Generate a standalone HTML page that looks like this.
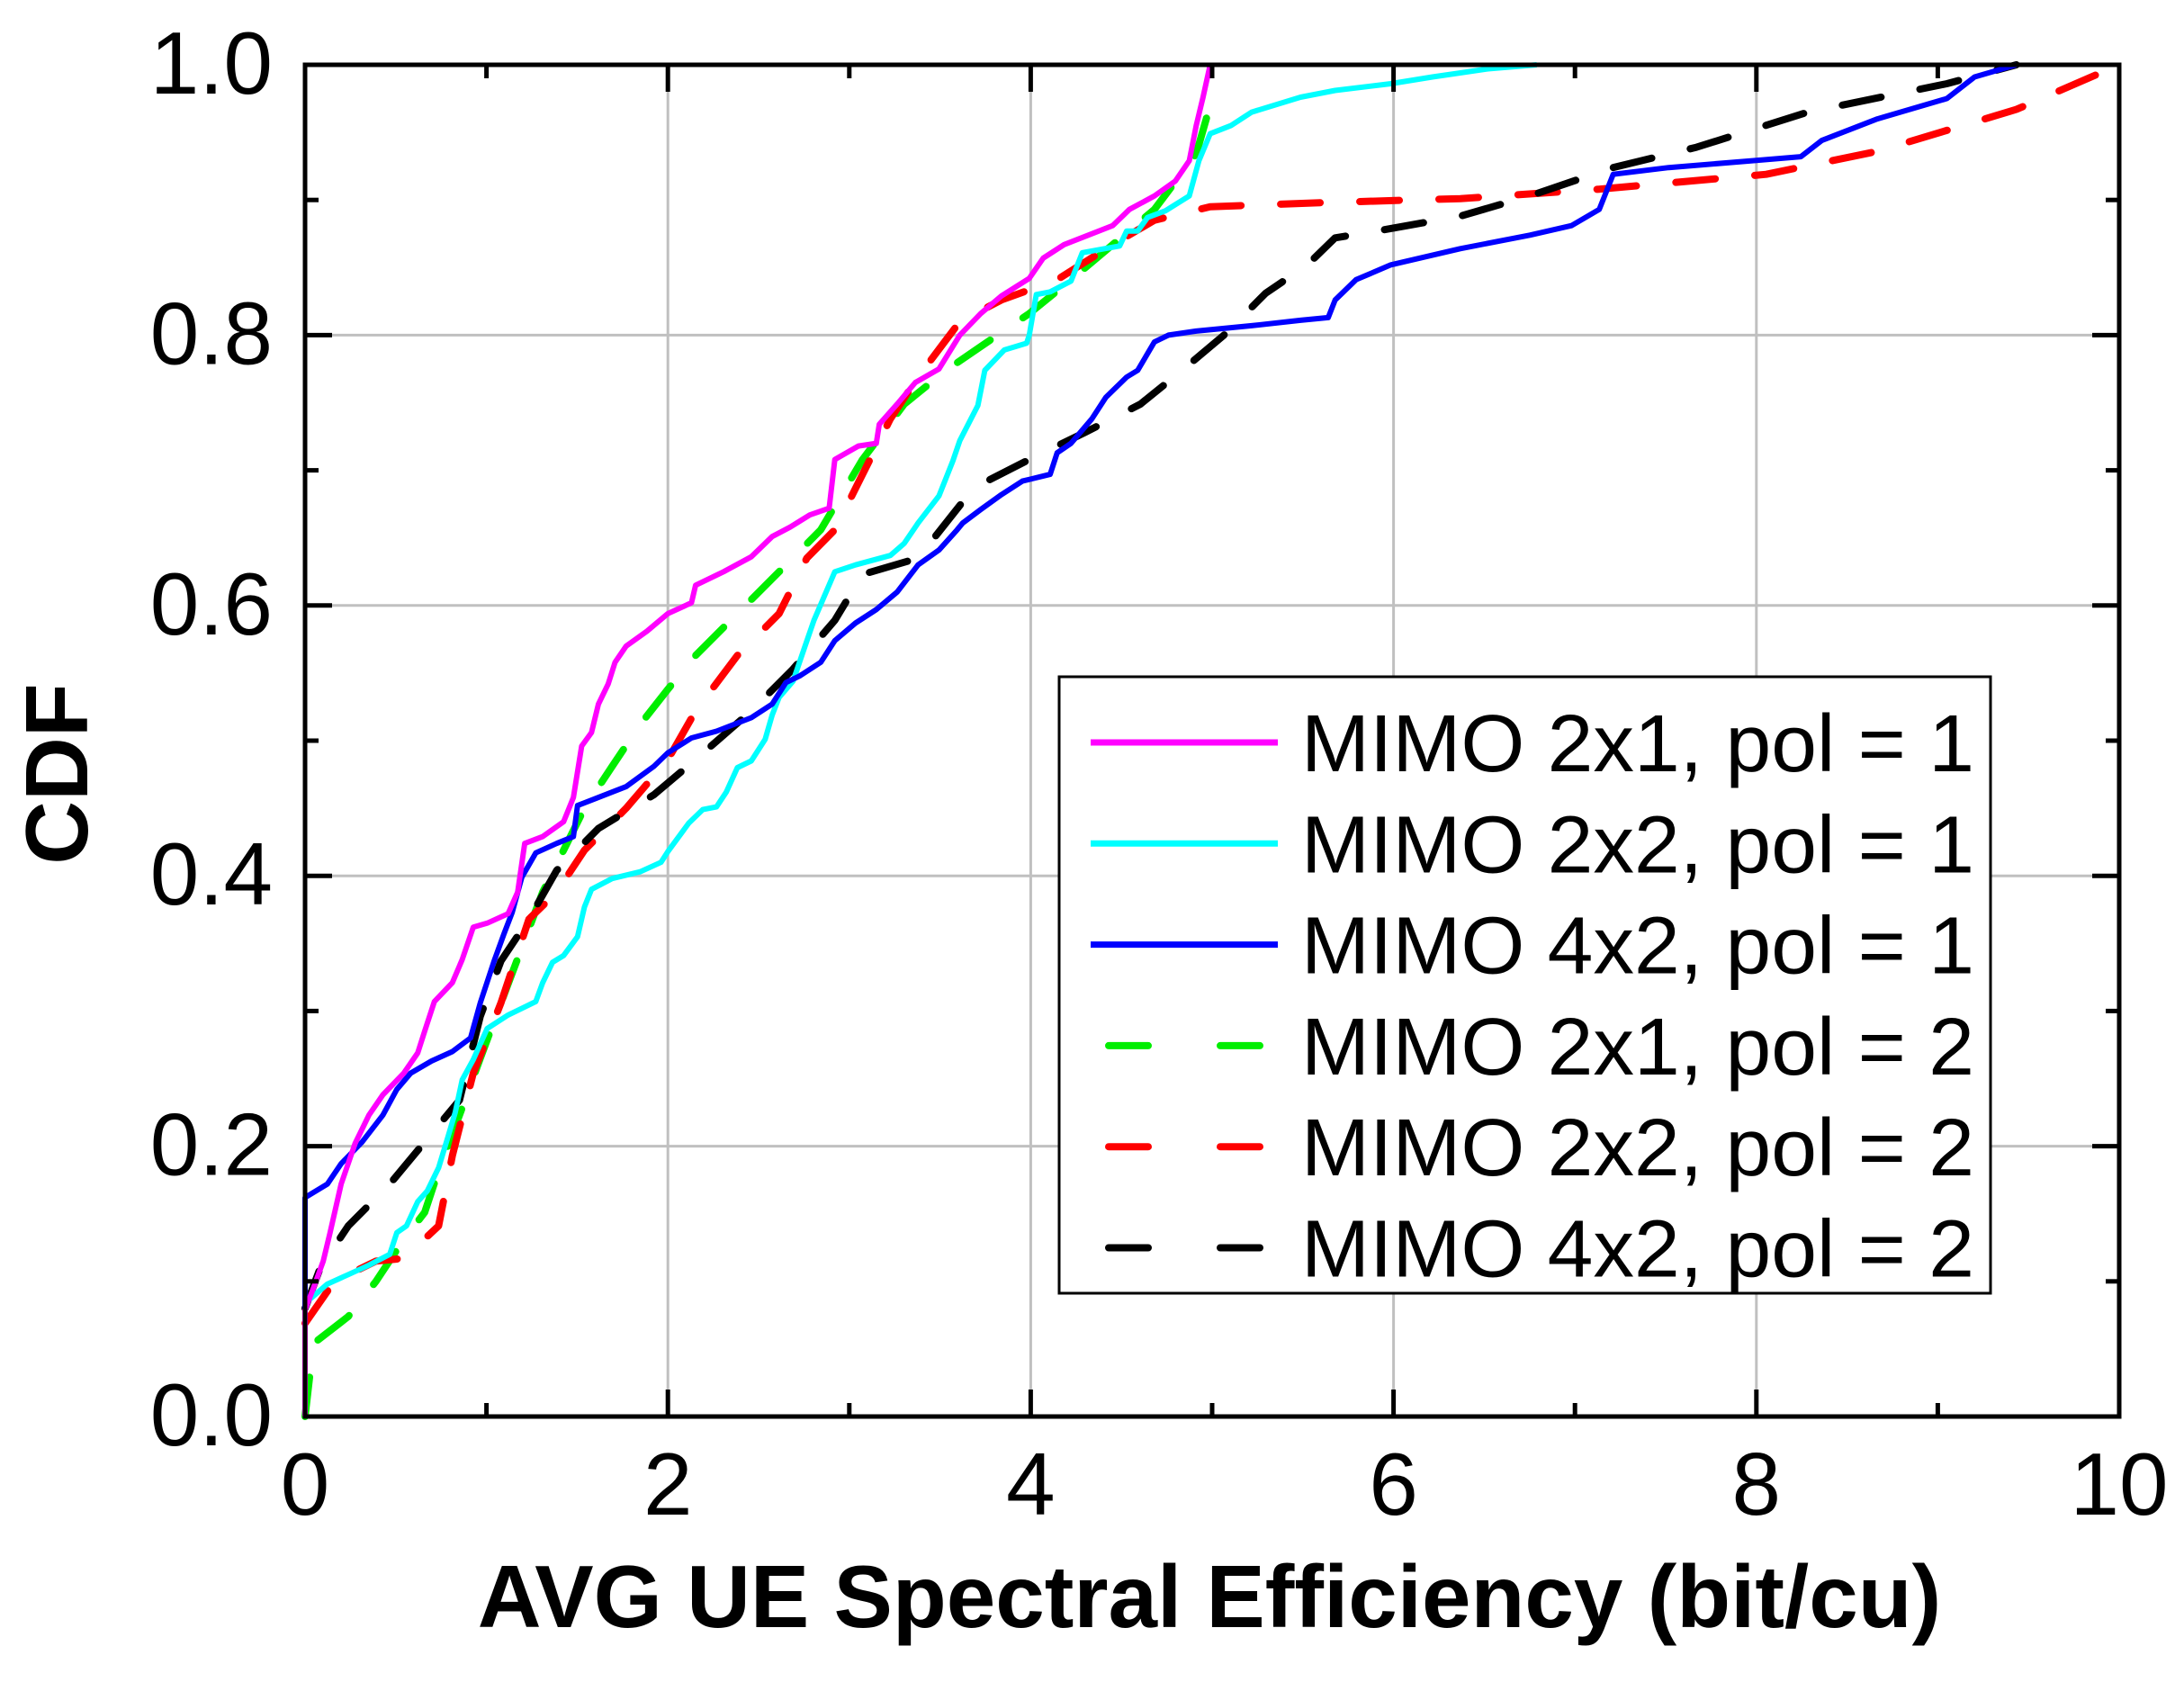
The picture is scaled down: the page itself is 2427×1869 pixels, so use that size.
<!DOCTYPE html>
<html><head><meta charset="utf-8"><style>
html,body{margin:0;padding:0;background:#fff;}
svg{display:block;}
text{font-family:"Liberation Sans",Arial,sans-serif;fill:#000;}
</style></head><body>
<svg id="chart" width="2427" height="1869" viewBox="0 0 2427 1869" xmlns="http://www.w3.org/2000/svg">
<g id="grid"></g>
<g id="series"></g>
<g id="axes"></g>
<g id="legend"></g>
</svg>
<script>
const xTicks = [0, 2, 4, 6, 8, 10];
const xTickLabels = ["0", "2", "4", "6", "8", "10"];
const yTicks = [0, 0.2, 0.4, 0.6, 0.8, 1.0];
const yTickLabels = ["0.0", "0.2", "0.4", "0.6", "0.8", "1.0"];
const seriesNames = ["MIMO 2x1, pol = 1","MIMO 2x2, pol = 1","MIMO 4x2, pol = 1","MIMO 2x1, pol = 2","MIMO 2x2, pol = 2","MIMO 4x2, pol = 2"];

const mimo2x1pol1 = [[0,0],[0,0.079],[0.046,0.095],[0.1,0.115],[0.138,0.136],[0.199,0.172],[0.276,0.202],[0.352,0.223],[0.429,0.238],[0.544,0.254],[0.621,0.269],[0.659,0.285],[0.713,0.307],[0.812,0.321],[0.866,0.338],[0.927,0.362],[1.004,0.365],[1.119,0.372],[1.172,0.388],[1.211,0.424],[1.31,0.429],[1.425,0.44],[1.479,0.458],[1.525,0.496],[1.579,0.506],[1.617,0.527],[1.671,0.542],[1.709,0.558],[1.77,0.57],[1.885,0.581],[2.0,0.594],[2.13,0.602],[2.153,0.615],[2.307,0.625],[2.46,0.636],[2.575,0.651],[2.674,0.658],[2.782,0.667],[2.889,0.672],[2.92,0.708],[3.05,0.718],[3.149,0.72],[3.165,0.734],[3.264,0.749],[3.364,0.765],[3.494,0.775],[3.609,0.8],[3.724,0.816],[3.839,0.829],[3.992,0.842],[4.069,0.857],[4.184,0.867],[4.452,0.881],[4.506,0.888],[4.544,0.893],[4.682,0.903],[4.797,0.914],[4.874,0.929],[4.912,0.955],[4.95,0.976],[4.989,1.0]];
const mimo2x2pol1 = [[0,0],[0,0.084],[0.046,0.089],[0.123,0.098],[0.238,0.105],[0.352,0.112],[0.467,0.12],[0.506,0.136],[0.559,0.141],[0.621,0.159],[0.674,0.167],[0.736,0.184],[0.79,0.208],[0.828,0.225],[0.866,0.249],[0.927,0.264],[1.004,0.287],[1.119,0.297],[1.272,0.307],[1.31,0.321],[1.364,0.336],[1.425,0.341],[1.502,0.355],[1.54,0.377],[1.579,0.39],[1.693,0.398],[1.847,0.403],[1.962,0.41],[2.0,0.418],[2.115,0.439],[2.192,0.449],[2.268,0.451],[2.322,0.462],[2.383,0.48],[2.46,0.485],[2.536,0.501],[2.575,0.519],[2.613,0.532],[2.69,0.544],[2.751,0.568],[2.805,0.589],[2.92,0.625],[3.034,0.63],[3.226,0.637],[3.303,0.646],[3.379,0.661],[3.494,0.681],[3.571,0.707],[3.609,0.722],[3.709,0.748],[3.747,0.774],[3.854,0.789],[3.977,0.794],[3.992,0.8],[4.031,0.83],[4.107,0.832],[4.222,0.84],[4.284,0.861],[4.49,0.866],[4.529,0.877],[4.59,0.877],[4.644,0.887],[4.743,0.892],[4.874,0.903],[4.927,0.929],[4.989,0.949],[5.103,0.955],[5.218,0.965],[5.487,0.976],[5.678,0.981],[5.985,0.986],[6.215,0.991],[6.521,0.997],[6.789,1.0]];
const mimo4x2pol1 = [[0,0],[0,0.162],[0.123,0.172],[0.199,0.187],[0.314,0.203],[0.429,0.223],[0.506,0.242],[0.582,0.254],[0.697,0.263],[0.812,0.27],[0.912,0.28],[0.966,0.306],[1.042,0.337],[1.096,0.357],[1.142,0.373],[1.195,0.399],[1.272,0.417],[1.387,0.424],[1.479,0.429],[1.502,0.452],[1.617,0.458],[1.77,0.466],[1.923,0.481],[2.0,0.491],[2.13,0.502],[2.268,0.507],[2.46,0.517],[2.575,0.527],[2.651,0.543],[2.728,0.548],[2.843,0.558],[2.92,0.574],[3.034,0.587],[3.149,0.597],[3.264,0.61],[3.379,0.63],[3.494,0.641],[3.594,0.656],[3.625,0.661],[3.724,0.671],[3.839,0.682],[3.954,0.692],[4.107,0.697],[4.146,0.713],[4.222,0.72],[4.337,0.738],[4.414,0.754],[4.529,0.769],[4.59,0.774],[4.682,0.795],[4.759,0.8],[4.912,0.803],[5.218,0.807],[5.487,0.811],[5.64,0.813],[5.678,0.826],[5.793,0.841],[5.985,0.852],[6.368,0.864],[6.751,0.874],[6.981,0.881],[7.134,0.893],[7.211,0.919],[7.517,0.924],[7.977,0.929],[8.245,0.932],[8.36,0.944],[8.667,0.96],[9.05,0.975],[9.203,0.991],[9.433,1.0]];
const mimo2x1pol2 = [[0,0],[0.046,0.054],[0.238,0.074],[0.391,0.1],[0.544,0.131],[0.659,0.151],[0.736,0.182],[0.851,0.223],[0.966,0.265],[1.08,0.306],[1.195,0.347],[1.31,0.388],[1.425,0.419],[1.54,0.45],[1.693,0.481],[1.847,0.512],[2.0,0.538],[2.153,0.563],[2.383,0.594],[2.613,0.625],[2.843,0.656],[3.073,0.708],[3.303,0.749],[3.533,0.774],[3.762,0.795],[3.992,0.816],[4.222,0.841],[4.452,0.867],[4.682,0.893],[4.912,0.934],[4.989,0.97]];
const mimo2x2pol2 = [[0,0.069],[0.161,0.1],[0.391,0.115],[0.544,0.117],[0.736,0.141],[0.812,0.193],[0.927,0.254],[1.08,0.306],[1.234,0.368],[1.387,0.388],[1.54,0.419],[1.77,0.45],[2.0,0.486],[2.153,0.522],[2.383,0.563],[2.613,0.594],[2.766,0.635],[2.92,0.656],[3.073,0.697],[3.226,0.738],[3.379,0.769],[3.609,0.81],[3.839,0.826],[4.146,0.841],[4.452,0.867],[4.682,0.885],[4.989,0.895],[5.602,0.898],[6.368,0.901],[7.134,0.908],[8.054,0.919],[8.667,0.936],[9.433,0.967],[10,1.0]];
const mimo4x2pol2 = [[0,0.08],[0.084,0.11],[0.238,0.141],[0.467,0.172],[0.659,0.203],[0.851,0.234],[0.966,0.296],[1.08,0.337],[1.234,0.368],[1.387,0.404],[1.617,0.435],[1.923,0.46],[2.153,0.486],[2.46,0.522],[2.69,0.553],[2.92,0.589],[3.073,0.623],[3.379,0.635],[3.686,0.687],[3.992,0.708],[4.299,0.728],[4.605,0.749],[4.835,0.774],[5.065,0.8],[5.295,0.831],[5.525,0.852],[5.678,0.872],[5.908,0.877],[6.368,0.888],[6.751,0.903],[7.211,0.924],[7.67,0.939],[8.284,0.965],[9.05,0.986],[9.433,1.0]];

const NS = "http://www.w3.org/2000/svg";
const L = 339, R = 2355, T = 72, B = 1574;
function xs(v){ return L + (v - 0) / 10 * (R - L); }
function ys(v){ return B - (v - 0) / 1 * (B - T); }
function mk(tag, attrs, parent){ const e = document.createElementNS(NS, tag); for (const k in attrs) e.setAttribute(k, attrs[k]); parent.appendChild(e); return e; }

const grid = document.getElementById('grid');
xTicks.forEach(function(v){
  if (v === 0 || v === 10) return;
  const g = mk('line', {x1: xs(v), x2: xs(v), y1: T, y2: B, stroke: '#c0c0c0', 'stroke-width': 3}, grid);
  
  
});
yTicks.forEach(function(v){
  if (v === 0 || v === 1) return;
  const g = mk('line', {x1: L, x2: R, y1: ys(v), y2: ys(v), stroke: '#c0c0c0', 'stroke-width': 3}, grid);
  
  
});

const seriesData = [mimo2x1pol1, mimo2x2pol1, mimo4x2pol1, mimo2x1pol2, mimo2x2pol2, mimo4x2pol2];
const colors = ['#ff00ff', '#00ffff', '#0000ff', '#00ee00', '#ff0000', '#000000'];
const dashed = [false, false, false, true, true, true];
const seriesKeys = ['mimo-2x1-pol1', 'mimo-2x2-pol1', 'mimo-4x2-pol1', 'mimo-2x1-pol2', 'mimo-2x2-pol2', 'mimo-4x2-pol2'];
const sg = document.getElementById('series');
const drawOrder = [3, 4, 5, 1, 2, 0];
drawOrder.forEach(function(i){
  const d = seriesData[i].map(function(p, j){ return (j ? 'L' : 'M') + xs(p[0]).toFixed(1) + ',' + ys(p[1]).toFixed(1); }).join('');
  const attrs = {d: d, fill: 'none', stroke: colors[i], 'stroke-width': dashed[i] ? 8 : 6, 'stroke-linejoin': 'round'};
  if (dashed[i]) { attrs['stroke-dasharray'] = '44 44'; attrs['stroke-linecap'] = 'round'; }
  const p = mk('path', attrs, sg);
  
  
});

const ax = document.getElementById('axes');
const frame = mk('rect', {x: L, y: T, width: R - L, height: B - T, fill: 'none', stroke: '#000', 'stroke-width': 5}, ax);


for (let v = 0; v <= 10; v += 1) {
  const len = (v % 2 === 0) ? 30 : 15;
  const t1 = mk('line', {x1: xs(v), x2: xs(v), y1: B, y2: B - len, stroke: '#000', 'stroke-width': 5}, ax);
  
  
  const t2 = mk('line', {x1: xs(v), x2: xs(v), y1: T, y2: T + len, stroke: '#000', 'stroke-width': 5}, ax);
  
  
}
for (let k = 0; k <= 10; k++) {
  const v = k / 10;
  const len = (k % 2 === 0) ? 30 : 15;
  const t1 = mk('line', {x1: L, x2: L + len, y1: ys(v), y2: ys(v), stroke: '#000', 'stroke-width': 5}, ax);
  
  
  const t2 = mk('line', {x1: R, x2: R - len, y1: ys(v), y2: ys(v), stroke: '#000', 'stroke-width': 5}, ax);
  
  
}
xTicks.forEach(function(v, i){
  const t = mk('text', {x: xs(v), y: 1683, 'font-size': 98, 'text-anchor': 'middle'}, ax);
  t.textContent = xTickLabels[i];
  
  
});
yTicks.forEach(function(v, i){
  const t = mk('text', {x: 303, y: ys(v) + 32, 'font-size': 98, 'text-anchor': 'end'}, ax);
  t.textContent = yTickLabels[i];
  
  
});
const xt = mk('text', {x: 1344, y: 1808, 'font-size': 98, 'font-weight': 'bold', 'text-anchor': 'middle'}, ax);
xt.textContent = 'AVG UE Spectral Efficiency (bit/cu)';


const yt = mk('text', {x: 0, y: 0, 'font-size': 98, 'font-weight': 'bold', 'text-anchor': 'middle', transform: 'translate(97,860) rotate(-90)'}, ax);
yt.textContent = 'CDF';



const lg = document.getElementById('legend');
const box = mk('rect', {x: 1177, y: 752, width: 1035, height: 685, fill: '#fff', stroke: '#000', 'stroke-width': 3}, lg);


seriesNames.forEach(function(name, i){
  const y = 825 + i * 112.3;
  const la = {x1: 1212, x2: 1420, y1: y, y2: y, stroke: colors[i], 'stroke-width': dashed[i] ? 8 : 7};
  if (dashed[i]) { la['stroke-dasharray'] = '44 80'; la['stroke-linecap'] = 'round'; la.x1 = 1232; la.x2 = 1400; }
  const ln = mk('line', la, lg);
  
  
  const t = mk('text', {x: 1446, y: y + 32, 'font-size': 90, textLength: 748, lengthAdjust: 'spacingAndGlyphs'}, lg);
  t.textContent = name;
  
  
});
</script>
</body></html>
